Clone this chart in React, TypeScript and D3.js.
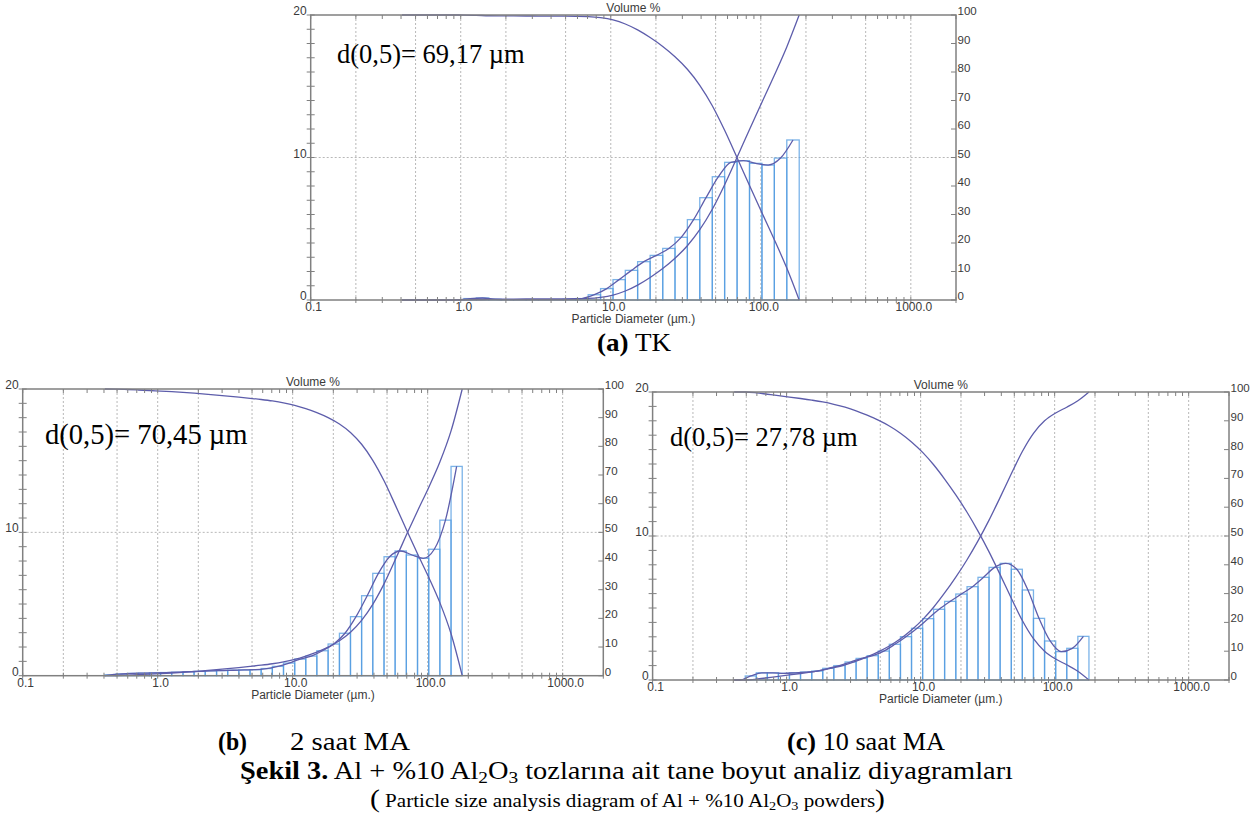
import * as d3 from 'd3';
import { useEffect, useRef } from 'react';

// size class edges (µm), shared by the three measurements
const binEdges = [
  0.406, 0.491, 0.594, 0.718, 0.869, 1.05, 1.27, 1.54, 1.86, 2.25, 2.73, 3.3, 3.99, 4.83, 5.84, 7.07,
  8.55, 10.35, 12.5, 15.1, 18.3, 22.2, 26.8, 32.4, 39.2, 47.5, 57.4, 69.5, 84.1, 101.8, 123.1, 149.0, 180.3,
];

// volume % in each class
const volumeTK = [
  0, 0, 0, 0, 0.02, 0.1, 0.14, 0.05, 0.02, 0.02, 0.02, 0.02, 0.03, 0.04, 0.1, 0.37,
  0.8, 1.43, 2.08, 2.69, 3.13, 3.62, 4.4, 5.64, 7.18, 8.65, 9.66, 9.78, 9.59, 9.47, 9.96, 11.23,
];
const volume2h = [
  0.06, 0.12, 0.16, 0.18, 0.2, 0.22, 0.24, 0.28, 0.3, 0.34, 0.36, 0.38, 0.4, 0.42, 0.5, 0.65,
  0.88, 1.16, 1.37, 1.74, 2.21, 2.96, 4.12, 5.58, 7.14, 8.3, 8.7, 8.42, 8.19, 8.82, 10.85, 14.6,
];
const volume10h = [
  0, 0.28, 0.5, 0.5, 0.46, 0.5, 0.55, 0.62, 0.81, 1.0, 1.25, 1.5, 1.69, 2.01, 2.48, 3.01,
  3.59, 4.26, 4.91, 5.46, 5.97, 6.48, 7.13, 7.82, 8.1, 7.69, 6.25, 4.28, 2.71, 1.97, 2.2, 3.03,
];

const d50Labels = ['d(0,5)= 69,17 µm', 'd(0,5)= 70,45 µm', 'd(0,5)= 27,78 µm'];
const xTickValues = [0.1, 1, 10, 100, 1000];
const xTickLabels = ['0.1', '1.0', '10.0', '100.0', '1000.0'];
const leftTickLabels = [0, 10, 20];
const gridSizes = [0.2, 0.5, 1, 2, 5, 10, 20, 50, 100, 200, 500, 1000];

const panels = [
  { values: volumeTK, label: d50Labels[0], left: 310.7, right: 956, top: 15, bottom: 300, lx: 337, ly: 63, ls: 26.5 },
  { values: volume2h, label: d50Labels[1], left: 22.7, right: 603.3, top: 389, bottom: 675.7, lx: 45, ly: 444, ls: 28.6 },
  { values: volume10h, label: d50Labels[2], left: 652.6, right: 1229, top: 392, bottom: 680, lx: 670, ly: 446, ls: 26.5 },
];

const axisColor = '#808080';
const gridColor = '#b8b8b8';
const barColor = '#4f9ae0';
const curveColor = '#5d5dab';
const sans = "'Liberation Sans', Arial, sans-serif";

const drawPanel = (svg, p) => {
  const g = svg.append('g');
  const x = d3.scaleLog().domain([0.1, 2000]).range([p.left, p.right]);
  const y = d3.scaleLinear().domain([0, 20]).range([p.bottom, p.top]);
  const yr = d3.scaleLinear().domain([0, 100]).range([p.bottom, p.top]);

  // dotted grid
  g.selectAll('line.vgrid')
    .data(gridSizes)
    .join('line')
    .attr('class', 'vgrid')
    .attr('x1', (d) => x(d))
    .attr('x2', (d) => x(d))
    .attr('y1', p.top)
    .attr('y2', p.bottom)
    .attr('stroke', gridColor)
    .attr('stroke-dasharray', '2,2');
  g.append('line')
    .attr('x1', p.left)
    .attr('x2', p.right)
    .attr('y1', y(10))
    .attr('y2', y(10))
    .attr('stroke', gridColor)
    .attr('stroke-dasharray', '2,2');

  // histogram
  const bins = p.values
    .map((v, i) => ({ v, x0: binEdges[i], x1: binEdges[i + 1] }))
    .filter((b) => b.v > 0);
  g.selectAll('rect.bar')
    .data(bins)
    .join('rect')
    .attr('class', 'bar')
    .attr('x', (d) => x(d.x0))
    .attr('width', (d) => x(d.x1) - x(d.x0))
    .attr('y', (d) => y(d.v))
    .attr('height', (d) => y(0) - y(d.v))
    .attr('fill', 'none')
    .attr('stroke', barColor)
    .attr('stroke-opacity', 0.75)
    .attr('stroke-width', 1.3);

  // curves
  const cum = Array.from(d3.cumsum(p.values));
  const total = cum[cum.length - 1];
  const under = [[binEdges[0], 0], ...cum.map((c, i) => [binEdges[i + 1], (c / total) * 100])];
  const over = under.map((d) => [d[0], 100 - d[1]]);
  const freq = [
    [binEdges[0], 0],
    ...p.values.map((v, i) => [Math.sqrt(binEdges[i] * binEdges[i + 1]), v]),
  ];
  const lineR = d3.line().x((d) => x(d[0])).y((d) => yr(d[1])).curve(d3.curveMonotoneX);
  const lineL = d3.line().x((d) => x(d[0])).y((d) => y(d[1])).curve(d3.curveMonotoneX);
  [lineR(under), lineR(over), lineL(freq)].forEach((d) =>
    g.append('path').attr('d', d).attr('fill', 'none').attr('stroke', curveColor).attr('stroke-width', 1.3)
  );

  // frame
  g.append('rect')
    .attr('x', p.left)
    .attr('y', p.top)
    .attr('width', p.right - p.left)
    .attr('height', p.bottom - p.top)
    .attr('fill', 'none')
    .attr('stroke', axisColor)
    .attr('stroke-width', 1.5);

  // log ticks, bottom and top
  const minor = x.ticks();
  g.selectAll('line.btick')
    .data(minor)
    .join('line')
    .attr('class', 'btick')
    .attr('x1', (d) => x(d))
    .attr('x2', (d) => x(d))
    .attr('y1', p.bottom - 3)
    .attr('y2', p.bottom + 3)
    .attr('stroke', axisColor);
  g.selectAll('line.ttick')
    .data(minor)
    .join('line')
    .attr('class', 'ttick')
    .attr('x1', (d) => x(d))
    .attr('x2', (d) => x(d))
    .attr('y1', p.top)
    .attr('y2', p.top + 4)
    .attr('stroke', axisColor);

  // left ticks every 1
  g.selectAll('line.ltick')
    .data(y.ticks(20))
    .join('line')
    .attr('class', 'ltick')
    .attr('x1', p.left - 4)
    .attr('x2', p.left + 4)
    .attr('y1', (d) => y(d))
    .attr('y2', (d) => y(d))
    .attr('stroke', axisColor);

  // right ticks every 10
  g.selectAll('line.rtick')
    .data(yr.ticks(10))
    .join('line')
    .attr('class', 'rtick')
    .attr('x1', p.right - 5)
    .attr('x2', p.right)
    .attr('y1', (d) => yr(d))
    .attr('y2', (d) => yr(d))
    .attr('stroke', axisColor);

  // tick labels
  g.selectAll('text.xl')
    .data(xTickValues)
    .join('text')
    .attr('class', 'xl')
    .attr('x', (d) => x(d) + 3)
    .attr('y', p.bottom + 11)
    .attr('text-anchor', 'middle')
    .attr('font-size', 12)
    .attr('font-family', sans)
    .attr('fill', '#3a3a3a')
    .text((_, i) => xTickLabels[i]);
  g.selectAll('text.ll')
    .data(leftTickLabels)
    .join('text')
    .attr('class', 'll')
    .attr('x', p.left - 4)
    .attr('y', (d) => y(d))
    .attr('text-anchor', 'end')
    .attr('font-size', 12)
    .attr('font-family', sans)
    .attr('fill', '#3a3a3a')
    .text((d) => d);
  g.selectAll('text.rl')
    .data(yr.ticks(10))
    .join('text')
    .attr('class', 'rl')
    .attr('x', p.right + 1.5)
    .attr('y', (d) => yr(d))
    .attr('font-size', 11.5)
    .attr('font-family', sans)
    .attr('fill', '#3a3a3a')
    .text((d) => d);

  g.append('text')
    .attr('x', (p.left + p.right) / 2)
    .attr('y', p.top - 3)
    .attr('text-anchor', 'middle')
    .attr('font-size', 12)
    .attr('font-family', sans)
    .attr('fill', '#3a3a3a')
    .text('Volume %');
  g.append('text')
    .attr('x', (p.left + p.right) / 2)
    .attr('y', p.bottom + 23)
    .attr('text-anchor', 'middle')
    .attr('font-size', 12)
    .attr('font-family', sans)
    .attr('fill', '#3a3a3a')
    .text('Particle Diameter (µm.)');

  g.append('text')
    .attr('x', p.lx)
    .attr('y', p.ly)
    .attr('font-size', p.ls)
    .attr('font-family', "'Liberation Serif', 'Times New Roman', serif")
    .attr('fill', '#000')
    .text(p.label);
};

const App = () => {
  const ref = useRef(null);

  useEffect(() => {
    const svg = d3.select(ref.current).select('g.charts');
    svg.selectAll('*').remove();
    panels.forEach((p) => drawPanel(svg, p));
  }, []);

  const serif = "'Liberation Serif', 'Times New Roman', serif";
  return (
    <svg
      ref={ref}
      width={1253}
      height={818}
      style={{ position: 'absolute', left: 0, top: 0, background: '#fff' }}
    >
      <g className="charts" />
      <g fontFamily={serif} fill="#000">
        <text x={597} y={351} fontSize={25} textLength={74} lengthAdjust="spacingAndGlyphs">
          <tspan fontWeight="bold">(a)</tspan> TK
        </text>
        <text x={218} y={750} fontSize={25} fontWeight="bold" textLength={29} lengthAdjust="spacingAndGlyphs">(b)</text>
        <text x={290} y={750} fontSize={25} textLength={120} lengthAdjust="spacingAndGlyphs">2 saat MA</text>
        <text x={787} y={750} fontSize={25} textLength={158} lengthAdjust="spacingAndGlyphs">
          <tspan fontWeight="bold">(c)</tspan> 10 saat MA
        </text>
        <text x={240} y={779} fontSize={25} textLength={773} lengthAdjust="spacingAndGlyphs">
          <tspan fontWeight="bold">Şekil 3.</tspan> Al + %10 Al
          <tspan dy={4} fontSize={17}>2</tspan>
          <tspan dy={-4}>O</tspan>
          <tspan dy={4} fontSize={17}>3</tspan>
          <tspan dy={-4}> tozlarına ait tane boyut analiz diyagramları</tspan>
        </text>
        <text x={370} y={807} fontSize={18.5} textLength={515} lengthAdjust="spacingAndGlyphs">
          <tspan fontSize={26}>(</tspan> Particle size analysis diagram of Al + %10 Al
          <tspan dy={3} fontSize={12.5}>2</tspan>
          <tspan dy={-3}>O</tspan>
          <tspan dy={3} fontSize={12.5}>3</tspan>
          <tspan dy={-3}> powders</tspan>
          <tspan fontSize={26}>)</tspan>
        </text>
      </g>
    </svg>
  );
};

export default App;
